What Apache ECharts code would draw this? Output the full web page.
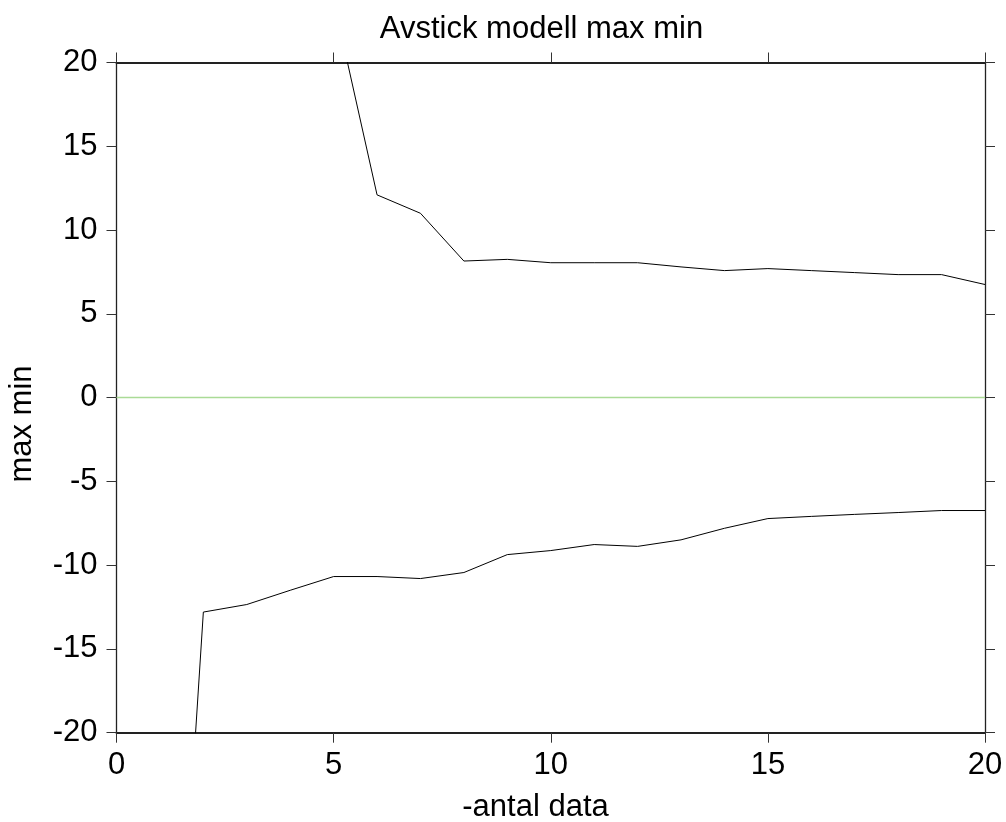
<!DOCTYPE html>
<html>
<head>
<meta charset="utf-8">
<script src="https://cdn.jsdelivr.net/npm/echarts@6/dist/echarts.min.js"></script>
<style>
html,body{margin:0;padding:0;background:#fff;}
#chart{width:1006px;height:822px;}
</style>
</head>
<body>
<div id="chart"></div>
<script>
var xValues = [1,2,3,4,5,6,7,8,9,10,11,12,13,14,15,16,17,18,19,20];
var maxValues = [null,null,null,null,23.7,12.1,11.0,8.15,8.25,8.05,8.05,8.05,7.8,7.58,7.7,7.58,7.46,7.34,7.34,6.75];
var minValues = [-53,-12.8,-12.35,-11.5,-10.68,-10.68,-10.8,-10.44,-9.37,-9.13,-8.77,-8.88,-8.49,-7.8,-7.22,-7.09,-6.97,-6.86,-6.74,-6.74];
var zeroX = [0,20];
var zeroY = [0,0];
var xTicks = [0,5,10,15,20];
var yTicks = [-20,-15,-10,-5,0,5,10,15,20];
var titleText = 'Avstick modell max min';
var xLabel = '-antal data';
var yLabel = 'max min';

function pairs(xs, ys){
  var out = [];
  for (var i = 0; i < xs.length; i++) {
    if (ys[i] !== null) out.push([xs[i], ys[i]]);
  }
  return out;
}

var FONT = '"Liberation Sans", Arial, sans-serif';
var chart = echarts.init(document.getElementById('chart'), null, {renderer: 'canvas'});

var axisBase = {
  type: 'value',
  splitLine: {show: false},
  axisTick: {show: true, inside: false, length: 10, lineStyle: {color: '#333', width: 1}},
  axisLabel: {color: '#000', fontSize: 31, fontFamily: FONT}
};

chart.setOption({
  backgroundColor: '#fff',
  animation: false,
  grid: {left: 116.5, right: 21, top: 62.5, bottom: 89.3, containLabel: false},
  xAxis: [
    Object.assign({}, axisBase, {
      position: 'bottom', min: xTicks[0], max: xTicks[xTicks.length-1], interval: 5,
      axisLine: {show: true, onZero: false, lineStyle: {color: '#222', width: 2}},
      axisLabel: Object.assign({}, axisBase.axisLabel, {margin: 17})
    }),
    Object.assign({}, axisBase, {
      position: 'top', min: xTicks[0], max: xTicks[xTicks.length-1], interval: 5,
      axisLine: {show: true, onZero: false, lineStyle: {color: '#222', width: 2}},
      axisLabel: {show: false}
    })
  ],
  yAxis: [
    Object.assign({}, axisBase, {
      position: 'left', min: yTicks[0], max: yTicks[yTicks.length-1], interval: 5,
      axisLine: {show: true, onZero: false, lineStyle: {color: '#222', width: 1.3}},
      axisLabel: Object.assign({}, axisBase.axisLabel, {margin: 19})
    }),
    Object.assign({}, axisBase, {
      position: 'right', min: yTicks[0], max: yTicks[yTicks.length-1], interval: 5,
      axisLine: {show: true, onZero: false, lineStyle: {color: '#222', width: 1.3}},
      axisLabel: {show: false}
    })
  ],
  series: [
    {
      type: 'line', data: pairs(zeroX, zeroY), showSymbol: false, symbol: 'none',
      lineStyle: {color: '#aadb96', width: 1.5}, clip: true, z: 1
    },
    {
      type: 'line', data: pairs(xValues, maxValues), showSymbol: false, symbol: 'none',
      lineStyle: {color: '#000', width: 1}, clip: true, z: 2
    },
    {
      type: 'line', data: pairs(xValues, minValues), showSymbol: false, symbol: 'none',
      lineStyle: {color: '#000', width: 1}, clip: true, z: 2
    }
  ],
  graphic: [
    {type: 'text', x: 541.5, y: 29, style: {text: titleText, font: '31px ' + FONT, fill: '#000', align: 'center', verticalAlign: 'middle'}},
    {type: 'text', x: 535.5, y: 807, style: {text: xLabel, font: '31px ' + FONT, fill: '#000', align: 'center', verticalAlign: 'middle'}},
    {type: 'text', x: 22, y: 424, rotation: Math.PI/2, style: {text: yLabel, font: '31px ' + FONT, fill: '#000', align: 'center', verticalAlign: 'middle'}}
  ]
});
</script>
</body>
</html>
